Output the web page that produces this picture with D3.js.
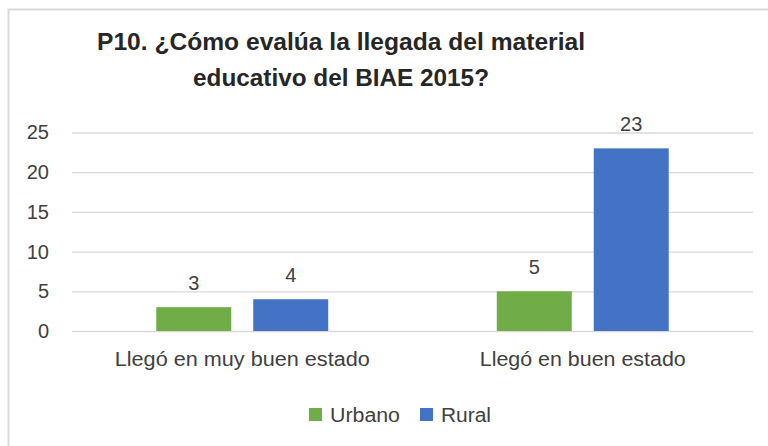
<!DOCTYPE html>
<html><head><meta charset="utf-8">
<script src="https://cdn.jsdelivr.net/npm/d3@7"></script>
<style>body{margin:0;background:#fff}svg{display:block}</style></head>
<body><svg id="c" width="768" height="446"></svg>
<script>
const categories = ["Llegó en muy buen estado", "Llegó en buen estado"];
const seriesNames = ["Urbano", "Rural"];
const urbano = [3, 5];
const rural = [4, 23];
const yTicks = [0, 5, 10, 15, 20, 25];
const titleLines = ["P10. ¿Cómo evalúa la llegada del material", "educativo del BIAE 2015?"];
const colors = ["#70ad47", "#4472c4"];

const svg = d3.select("#c");
const FONT = "'Liberation Sans', Arial, sans-serif";

// chart border (top and left visible)
svg.append("path").attr("d", "M8.5,446 L8.5,9.5 L768,9.5")
  .attr("fill", "none").attr("stroke", "#d9d9d9").attr("stroke-width", 2);

const left = 72, right = 753, y0 = 331, yTop = 132.5;
const x0 = d3.scaleBand().domain(categories).range([left, right]).paddingInner(0.495).paddingOuter(0.2475);
const x1 = d3.scaleBand().domain(seriesNames).range([0, x0.bandwidth()]).paddingInner(22 / 97);
const y = d3.scaleLinear().domain([0, 25]).range([y0, yTop]);
const color = d3.scaleOrdinal().domain(seriesNames).range(colors);

// y axis with gridlines
const ya = svg.append("g").attr("transform", `translate(${left},0)`)
  .call(d3.axisLeft(y).tickValues(yTicks).tickSize(-(right - left)).tickPadding(23));
ya.select(".domain").remove();
ya.selectAll(".tick line").attr("stroke", "#d9d9d9").attr("stroke-width", 1.3);
ya.selectAll(".tick text").attr("fill", "#404040").style("font-family", FONT).style("font-size", "20px");

// bars
const rows = categories.map((c, i) => ({ cat: c, values: [
  { s: seriesNames[0], v: urbano[i] }, { s: seriesNames[1], v: rural[i] }] }));
const g = svg.append("g").selectAll("g").data(rows).join("g")
  .attr("transform", d => `translate(${x0(d.cat)},0)`);
g.selectAll("rect").data(d => d.values).join("rect")
  .attr("x", d => x1(d.s)).attr("width", x1.bandwidth())
  .attr("y", d => y(d.v)).attr("height", d => y0 - y(d.v))
  .attr("fill", d => color(d.s));
g.selectAll("text.lbl").data(d => d.values).join("text").attr("class", "lbl")
  .attr("x", d => x1(d.s) + x1.bandwidth() / 2).attr("y", d => y(d.v) - 17)
  .attr("text-anchor", "middle").attr("fill", "#404040")
  .style("font-family", FONT).style("font-size", "20px").text(d => d.v);

// category labels
const catWidths = [255, 206];
svg.append("g").selectAll("text").data(categories).join("text")
  .attr("x", d => x0(d) + x0.bandwidth() / 2).attr("y", 366)
  .attr("text-anchor", "middle").attr("fill", "#404040")
  .style("font-family", FONT).style("font-size", "20px")
  .attr("textLength", (d, i) => catWidths[i]).attr("lengthAdjust", "spacingAndGlyphs")
  .text(d => d);

// title
const titleY = [50, 86], titleW = [488, 296];
svg.append("g").selectAll("text").data(titleLines).join("text")
  .attr("x", 341).attr("y", (d, i) => titleY[i])
  .attr("text-anchor", "middle").attr("fill", "#262626")
  .style("font-family", FONT).style("font-size", "24px").style("font-weight", "bold")
  .attr("textLength", (d, i) => titleW[i]).attr("lengthAdjust", "spacingAndGlyphs")
  .text(d => d);

// legend
const legX = [309, 420], legW = [70, 50];
const lg = svg.append("g").selectAll("g").data(seriesNames).join("g")
  .attr("transform", (d, i) => `translate(${legX[i]},408)`);
lg.append("rect").attr("width", 13).attr("height", 13).attr("fill", d => color(d));
lg.append("text").attr("x", 21).attr("y", 13.5).attr("fill", "#404040")
  .style("font-family", FONT).style("font-size", "20px")
  .attr("textLength", (d, i) => legW[i]).attr("lengthAdjust", "spacingAndGlyphs")
  .text(d => d);
</script></body></html>
